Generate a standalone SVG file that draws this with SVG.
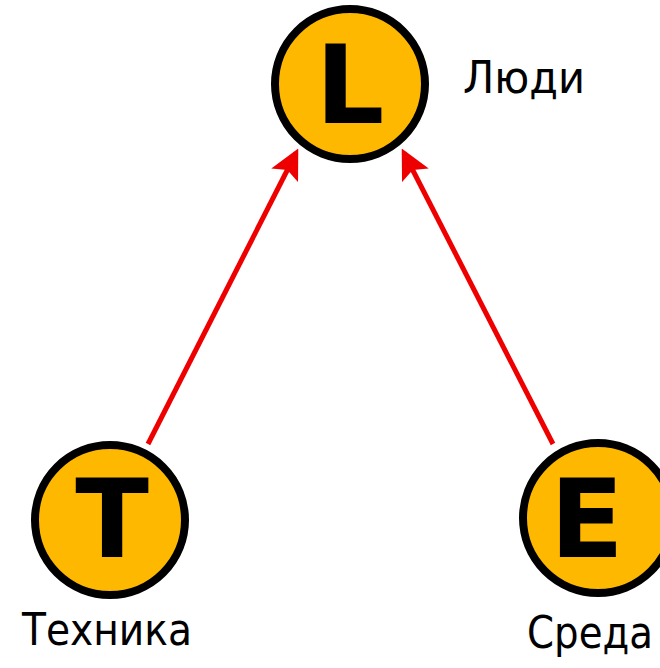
<svg xmlns="http://www.w3.org/2000/svg" width="660" height="668" viewBox="0 0 660 668">
<style>
.node circle{fill:#FFB800;stroke:#000;stroke-width:8}
.letter{font-family:"DejaVu Sans",Verdana,sans-serif;font-weight:bold;font-size:108px;fill:#000;text-anchor:middle}
.label{font-family:"DejaVu Sans",Tahoma,sans-serif;font-size:45px;fill:#000}
.edge{stroke:#EE0000;stroke-width:5;fill:none;marker-end:url(#ah)}
</style>
<defs>
<marker id="ah" markerWidth="6" markerHeight="6" refX="5" refY="3" orient="auto" markerUnits="strokeWidth">
<path d="M0,0 L6,3 L0,6 L1.2,3 Z" fill="#EE0000"/>
</marker>
</defs>
<g id="connectors">
<line class="edge" x1="148" y1="444" x2="296" y2="153"/>
<line class="edge" x1="553" y1="444" x2="404" y2="153"/>
</g>
<g id="node-L" class="node">
<circle cx="350" cy="84" r="75"/>
<text class="letter" x="350" y="123">L</text>
<text class="label" x="463" y="93" textLength="122" lengthAdjust="spacingAndGlyphs">Люди</text>
</g>
<g id="node-T" class="node">
<circle cx="110" cy="520" r="75"/>
<text class="letter" x="112" y="557">T</text>
<text class="label" x="22" y="645" textLength="170" lengthAdjust="spacingAndGlyphs">Техника</text>
</g>
<g id="node-E" class="node">
<circle cx="598" cy="518" r="75"/>
<text class="letter" x="587" y="557">E</text>
<text class="label" x="527" y="648" textLength="126" lengthAdjust="spacingAndGlyphs">Среда</text>
</g>
</svg>
